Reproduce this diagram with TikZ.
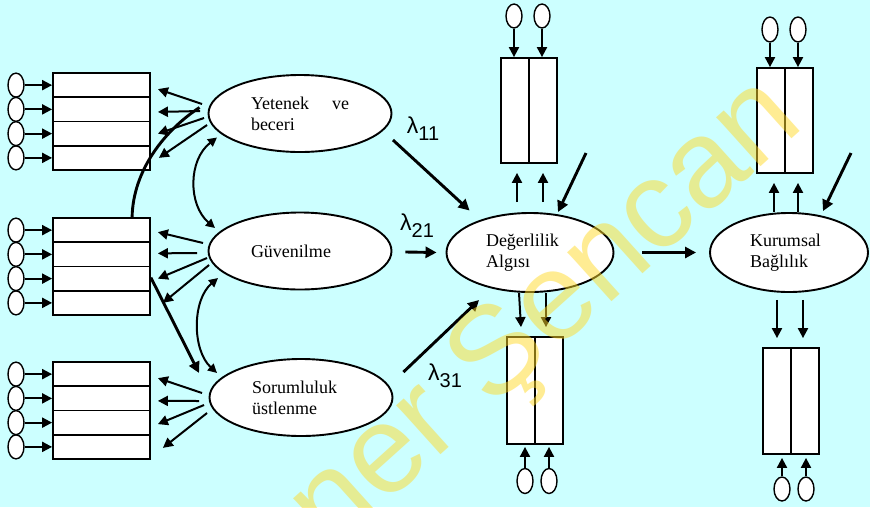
\documentclass[tikz,border=0pt]{standalone}
\usepackage{fontspec}
\setmainfont{Liberation Serif}
\newfontfamily\lsans{Liberation Sans}
\usetikzlibrary{arrows.meta,shapes.geometric,calc}
\definecolor{bgc}{RGB}{204,255,255}
\definecolor{wmc}{RGB}{255,218,40}
\newcommand\lamsub[1]{{\fontsize{23}{23}\selectfont λ}\raisebox{-7pt}{\fontsize{20}{20}\selectfont #1}}
\begin{document}
\begin{tikzpicture}[x=1pt,y=-1pt,
 lat/.style={draw, ellipse, fill=white, line width=1.9pt, minimum width=183pt, minimum height=77pt, inner sep=0pt, font=\fontsize{18}{21}\selectfont, align=left},
 err/.style={draw, ellipse, fill=white, line width=1.4pt, minimum width=16pt, minimum height=24pt, inner sep=0pt},
 cell/.style={draw, fill=white, line width=1.8pt, inner sep=0pt, minimum width=28pt},
 arr/.style={-{Triangle[length=10pt,width=10pt]}, line width=2pt},
 tarr/.style={-{Triangle[length=11pt,width=11pt]}, line width=2.9pt},
 corr/.style={{Triangle[length=9pt,width=9pt]}-{Triangle[length=9pt,width=9pt]}, line width=2pt},
 lam/.style={font=\lsans, inner sep=0pt},
 wm/.style={font=\lsans\fontsize{125}{125}\selectfont, text=wmc, opacity=0.5, inner sep=0pt}
]
\useasboundingbox (0,0) rectangle (870,507);
\fill[bgc] (0,0) rectangle (870,507);

% left indicator groups
\foreach \g/\tp in {1/73,2/218,3/362}{
  \foreach \r in {1,...,4}{
    \pgfmathsetmacro\yy{\tp+(\r-0.5)*24.25}
    \node[cell, minimum width=97pt, minimum height=24.25pt] (b\g\r) at (101.5,\yy) {};
    \node[err] (e\g\r) at (16,\yy) {};
    \draw[arr] (e\g\r.east) -- (b\g\r.west);
  }
}

% latent variables
\node[lat, text width=98pt] (y) at (300,113.5) {Yetenek\hfill ve\\beceri};
\node[lat, text width=98pt] (g) at (300,251) {Güvenilme};
\node[lat, text width=98pt] (s) at (301,397.5) {Sorumluluk\\üstlenme};
\node[lat, minimum width=167pt, minimum height=79pt, text width=88pt] (d) at (530,252.5) {Değerlilik\\Algısı};
\node[lat, minimum width=158pt, minimum height=79pt, text width=78pt] (k) at (789,252.5) {Kurumsal\\Bağlılık};

% fan arrows: Yetenek
\draw[arr] ($(y.west)+(-5.5,-9.5)$) -- ($(b11.east)+(7,4)$);
\draw[arr] ($(y.west)+(-7.5,-2.5)$) -- ($(b12.east)+(7,2.6)$);
\draw[arr] ($(y.west)+(-3.5,4.5)$) -- ($(b13.east)+(7,0)$);
\draw[arr] ($(y.west)+(-0.5,11.5)$) -- ($(b14.east)+(8,0)$);
% Guvenilme
\draw[arr] ($(g.west)+(-4.5,-8)$) -- ($(b21.east)+(7,2)$);
\draw[arr] ($(g.west)+(-10.5,2)$) -- ($(b22.east)+(7,-1)$);
\draw[arr] ($(g.west)+(-0.5,7)$) -- ($(b23.east)+(7,0)$);
\draw[arr] ($(g.west)+(1.5,14)$) -- ($(b24.east)+(12,0)$);
% Sorumluluk
\draw[arr] ($(s.west)+(-6.5,-4.5)$) -- ($(b31.east)+(7,4)$);
\draw[arr] ($(s.west)+(-9.5,3.5)$) -- ($(b32.east)+(7,2.5)$);
\draw[arr] ($(s.west)+(-4.5,7.5)$) -- ($(b33.east)+(7,1.5)$);
\draw[arr] ($(s.west)+(-1.5,15.5)$) -- ($(b34.east)+(12,1)$);

% correlations
\draw[corr] ($(y.center)+(-83,24)$) .. controls (188,160) and (188,205) .. ($(g.center)+(-85,-23)$);
\draw[corr] ($(g.center)+(-82,27)$) .. controls (192,300) and (192,350) .. ($(s.center)+(-84,-24.5)$);
\draw[line width=2.9pt] ($(b21.north west)+(80,0)$) .. controls (133,170) and (165,130) .. ($(y.west)+(-8,-6)$);
\draw[tarr] ($(b23.east)+(0,-1)$) -- ($(s.west)+(-9.5,-24.5)$);

% lambda paths
\draw[tarr] ($(y.east)+(0.5,26.5)$) -- ($(d.west)+(24,-42)$);
\draw[tarr] ($(g.east)+(13,1)$) -- ($(d.west)+(-9,0)$);
\draw[tarr] ($(s.east)+(10,-25.5)$) -- ($(d.west)+(33.5,47.5)$);
\draw[tarr] ($(d.east)+(28,0)$) -- ($(k.west)+(-13,0)$);
\node[lam] (l11) at (423,129) {\lamsub{11}};
\node[lam] (l21) at (417,226) {\lamsub{21}};
\node[lam] (l31) at (445,376) {\lamsub{31}};

% Degerlilik indicators top
\node[cell, minimum height=105pt] (dt1) at (515,110.5) {};
\node[cell, minimum height=105pt] (dt2) at (543,110.5) {};
\node[err] (et1) at (514,16) {};
\node[err] (et2) at (542,16) {};
\draw[arr] (et1.south) -- (et1.south |- dt1.north);
\draw[arr] (et2.south) -- (et2.south |- dt2.north);
\draw[arr] ($(d.north)+(-13,-10)$) -- ($(dt1.south)+(2,9)$);
\draw[arr] ($(d.north)+(13,-10)$) -- ($(dt2.south)+(0,9)$);
\coordinate (dfree) at (586,153);
\draw[tarr] (dfree) -- ($(d.north)+(28,0)$);

% Degerlilik indicators bottom
\node[cell, minimum height=107pt] (db1) at (521,390.5) {};
\node[cell, minimum height=107pt] (db2) at (549,390.5) {};
\node[err, minimum height=25pt] (eb1) at (525,481) {};
\node[err, minimum height=25pt] (eb2) at (549,481) {};
\draw[arr] ($(d.south)+(-11,0)$) -- ($(db1.north)+(0,-9)$);
\draw[arr] ($(d.south)+(16,0)$) -- ($(db2.north)+(-3,-9)$);
\draw[arr] (eb1.north) -- ($(eb1.north |- db1.south)+(0,2)$);
\draw[arr] (eb2.north) -- ($(eb2.north |- db2.south)+(0,2)$);

% Kurumsal indicators top
\node[cell, minimum height=105pt] (kt1) at (771,120.5) {};
\node[cell, minimum height=105pt] (kt2) at (799,120.5) {};
\node[err, minimum height=25pt] (ek1) at (770,29.5) {};
\node[err, minimum height=25pt] (ek2) at (798,29.5) {};
\draw[arr] (ek1.south) -- (ek1.south |- kt1.north);
\draw[arr] (ek2.south) -- (ek2.south |- kt2.north);
\draw[arr] ($(k.north)+(-15,0)$) -- ($(kt1.south)+(3,9)$);
\draw[arr] ($(k.north)+(9,0)$) -- ($(kt2.south)+(-1,9)$);
\coordinate (kfree) at (851,153);
\draw[tarr] (kfree) -- ($(k.north)+(34,-1)$);

% Kurumsal indicators bottom
\node[cell, minimum height=106pt] (kb1) at (777,401) {};
\node[cell, minimum height=106pt] (kb2) at (805,401) {};
\node[err] (ekb1) at (782,489) {};
\node[err] (ekb2) at (806,489) {};
\draw[arr] ($(k.south)+(-12,7)$) -- ($(kb1.north)+(0,-9)$);
\draw[arr] ($(k.south)+(14,7)$) -- ($(kb2.north)+(-2,-9)$);
\draw[arr] (ekb1.north) -- ($(ekb1.north |- kb1.south)+(0,3)$);
\draw[arr] (ekb2.north) -- ($(ekb2.north |- kb2.south)+(0,3)$);

% watermark
\node[wm, rotate=42] (wmk) at (492,368) {Şener Şencan};
\end{tikzpicture}
\end{document}
